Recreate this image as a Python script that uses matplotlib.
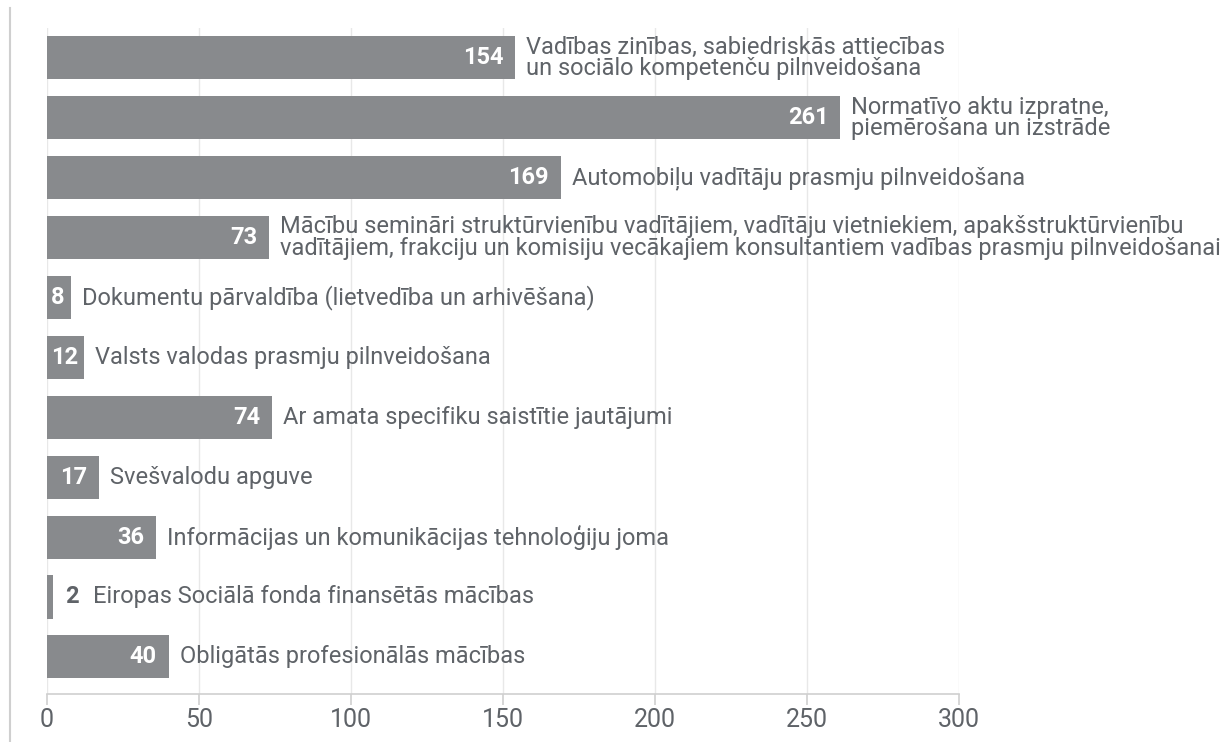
import matplotlib.pyplot as plt
from matplotlib.lines import Line2D

plt.rcParams['font.family'] = ['Roboto', 'DejaVu Sans']

# categories (top to bottom) and their counts
categories = [
    "Vadības zinības, sabiedriskās attiecības\nun sociālo kompetenču pilnveidošana",
    "Normatīvo aktu izpratne,\npiemērošana un izstrāde",
    "Automobiļu vadītāju prasmju pilnveidošana",
    "Mācību semināri struktūrvienību vadītājiem, vadītāju vietniekiem, apakšstruktūrvienību\n"
    "vadītājiem, frakciju un komisiju vecākajiem konsultantiem vadības prasmju pilnveidošanai",
    "Dokumentu pārvaldība (lietvedība un arhivēšana)",
    "Valsts valodas prasmju pilnveidošana",
    "Ar amata specifiku saistītie jautājumi",
    "Svešvalodu apguve",
    "Informācijas un komunikācijas tehnoloģiju joma",
    "Eiropas Sociālā fonda finansētās mācības",
    "Obligātās profesionālās mācības",
]
values = [154, 261, 169, 73, 8, 12, 74, 17, 36, 2, 40]
x_ticks = [0, 50, 100, 150, 200, 250, 300]

bar_color = "#888a8d"
text_color = "#5f6368"
grid_color = "#e8e8e8"

fig = plt.figure(figsize=(12.22, 7.42), dpi=100)
ax = fig.add_axes([0.0385, 0.0647, 0.7463, 0.8976])

ypos = list(range(len(values)))
ax.barh(ypos, values, height=0.72, color=bar_color, zorder=2)

ax.set_xlim(0, 300)
ax.set_ylim(len(values) - 1 + 0.62, -0.5)
ax.set_xticks(x_ticks)
ax.set_yticks([])

for s in ["top", "right", "left"]:
    ax.spines[s].set_visible(False)
ax.spines["bottom"].set_color("#cfcfcf")
ax.spines["bottom"].set_linewidth(1.2)
ax.tick_params(axis="x", length=8, width=1.2, color="#cfcfcf",
               labelsize=18, labelcolor=text_color, pad=2)
ax.grid(axis="x", color=grid_color, linewidth=1, zorder=0)

# px -> data units along x
px = 300 / (0.7463 * 1222)

for y, v, lab in zip(ypos, values, categories):
    w = v / px  # bar width in pixels
    if w < 20:
        # too thin: number sits outside the bar
        ax.text(v + 12 * px, y, str(v), ha="left", va="center", color=text_color,
                fontsize=17, fontweight="bold", zorder=3)
        ax.text(v + 40 * px, y, lab, ha="left", va="center", color=text_color,
                fontsize=17, linespacing=0.92, zorder=3)
        continue
    if w < 45:
        ax.text(4 * px, y, str(v), ha="left", va="center", color="white",
                fontsize=17, fontweight="bold", zorder=3)
    else:
        ax.text(v - 12 * px, y, str(v), ha="right", va="center", color="white",
                fontsize=17, fontweight="bold", zorder=3)
    ax.text(v + 11 * px, y, lab, ha="left", va="center", color=text_color,
            fontsize=17, linespacing=0.92, zorder=3)

# thin decorative rule on the left
fig.add_artist(Line2D([10 / 1222, 10 / 1222], [0, 1 - 8 / 742],
                      transform=fig.transFigure, color="#cfcfcf", linewidth=1.5))

fig.savefig("out.png", dpi=100)
